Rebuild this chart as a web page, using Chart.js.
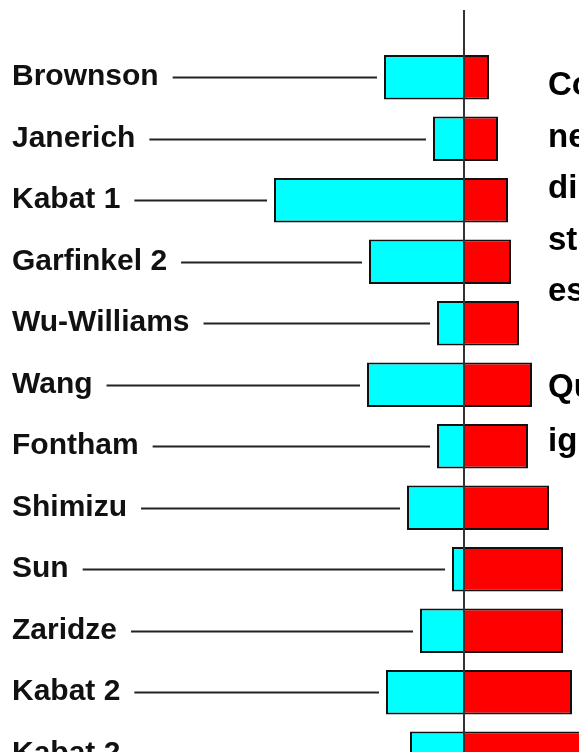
<!DOCTYPE html>
<html>
<head>
<meta charset="utf-8">
<script src="https://cdn.jsdelivr.net/npm/chart.js@4"></script>
<style>
  html, body { margin: 0; padding: 0; background: #fff; overflow: hidden; }
  #contenedor { width: 579px; height: 800px; }
</style>
</head>
<body>
<div id="contenedor"><canvas id="graficoEstudios" width="579" height="800"></canvas></div>
<script>
// Estudios (de arriba abajo)
const estudios = ['Brownson', 'Janerich', 'Kabat 1', 'Garfinkel 2', 'Wu-Williams', 'Wang',
                  'Fontham', 'Shimizu', 'Sun', 'Zaridze', 'Kabat 2', 'Kabat 2'];
// barras cian (hacia la izquierda) y rojas (hacia la derecha)
const valoresCian = [-8.0, -3.1, -19.0, -9.5, -2.7, -9.7, -2.7, -5.7, -1.2, -4.4, -7.8, -5.4];
const valoresRojo = [2.5, 3.4, 4.4, 4.7, 5.5, 6.8, 6.4, 8.5, 9.9, 9.9, 10.8, 12.0];
// texto de la derecha (cortado por el borde)
const textoDerecha = ['Co', 'ne', 'di', 'st', 'es'];
const textoDerecha2 = ['Qu', 'ig'];

const fuenteEtiqueta = 'bold 30px Arial, "Liberation Sans", sans-serif';

// etiquetas a la izquierda con su linea hasta la barra, y el eje vertical
const pluginEtiquetas = {
    id: 'etiquetas',
    afterDatasetsDraw(chart) {
        const ctx = chart.ctx;
        const x = chart.scales.x;
        const y = chart.scales.y;
        const x0 = x.getPixelForValue(0);

        ctx.save();
        ctx.font = fuenteEtiqueta;
        ctx.fillStyle = '#111';
        ctx.textBaseline = 'alphabetic';
        ctx.textAlign = 'left';
        estudios.forEach((nombre, i) => {
            const yc = y.getPixelForValue(i);
            ctx.fillText(nombre, 12, yc + 8);
            const ancho = ctx.measureText(nombre).width;
            const inicio = 12 + ancho + 14;
            const fin = x.getPixelForValue(valoresCian[i]) - 7;
            ctx.strokeStyle = '#222';
            ctx.lineWidth = 2;
            ctx.beginPath();
            ctx.moveTo(inicio, Math.round(yc) + 0.5);
            ctx.lineTo(fin, Math.round(yc) + 0.5);
            ctx.stroke();
        });

        // eje vertical
        ctx.strokeStyle = '#333';
        ctx.lineWidth = 2;
        ctx.beginPath();
        ctx.moveTo(x0, 10);
        ctx.lineTo(x0, chart.height);
        ctx.stroke();

        // texto de la derecha
        ctx.font = 'bold 33px Arial, "Liberation Sans", sans-serif';
        ctx.fillStyle = '#000';
        textoDerecha.forEach((t, i) => ctx.fillText(t, 548, 95 + i * 51.5));
        textoDerecha2.forEach((t, i) => ctx.fillText(t, 548, 397 + i * 54));
        ctx.restore();
    }
};

const ctxEstudios = document.getElementById('graficoEstudios').getContext('2d');

new Chart(ctxEstudios, {
    type: 'bar',
    data: {
        labels: estudios,
        datasets: [{
            label: 'Cian',
            data: valoresCian,
            backgroundColor: '#00FFFF',
            borderColor: '#111',
            borderWidth: 2,
            barPercentage: 0.72,
            categoryPercentage: 1
        }, {
            label: 'Rojo',
            data: valoresRojo,
            backgroundColor: '#FF0000',
            borderColor: '#111',
            borderWidth: 2,
            barPercentage: 0.72,
            categoryPercentage: 1
        }]
    },
    options: {
        indexAxis: 'y', // barras horizontales
        responsive: false,
        animation: false,
        layout: {
            padding: { top: 46.5, bottom: 15.5, left: 0, right: 0 }
        },
        plugins: {
            legend: { display: false },
            tooltip: { enabled: false },
            title: { display: false }
        },
        scales: {
            x: {
                stacked: true,
                display: false,
                min: -46.4,
                max: 11.5
            },
            y: {
                stacked: true,
                display: false
            }
        }
    },
    plugins: [pluginEtiquetas]
});
</script>
</body>
</html>
